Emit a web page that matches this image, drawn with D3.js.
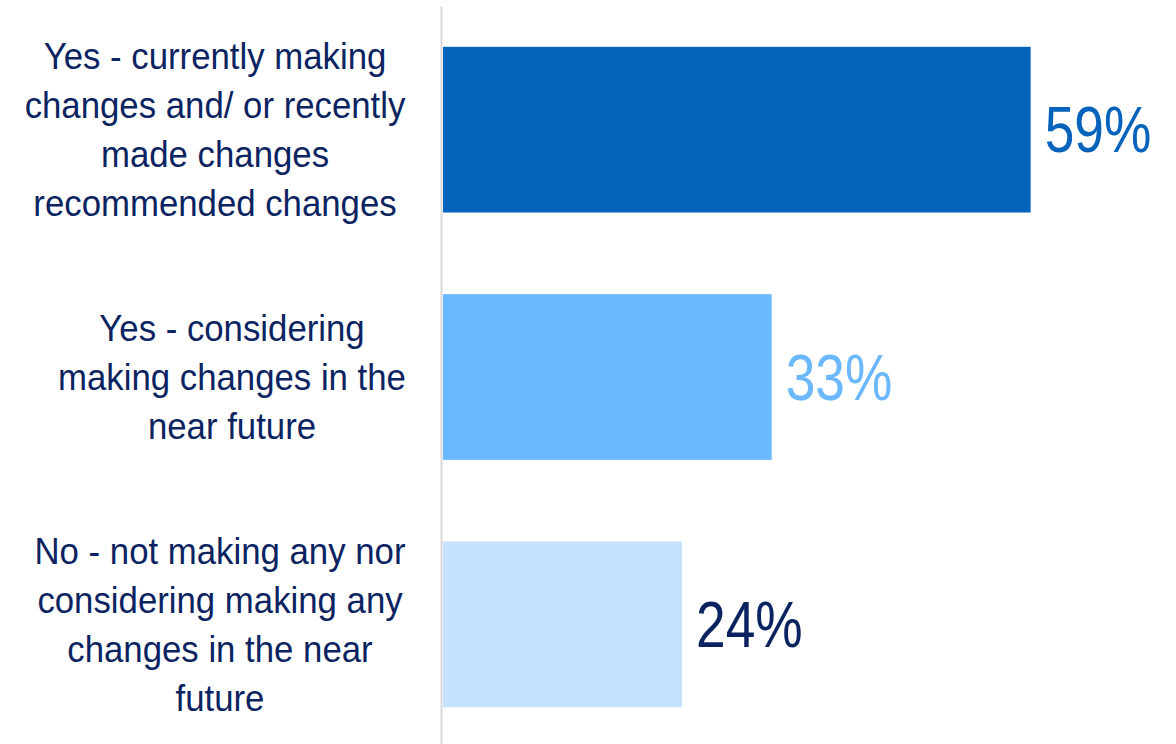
<!DOCTYPE html>
<html>
<head>
<meta charset="utf-8">
<script src="https://cdn.jsdelivr.net/npm/d3@7"></script>
<style>
  body { margin: 0; background: #fff; }
  text { font-family: "Liberation Sans Narrow", "Arial Narrow", "Liberation Sans", sans-serif; }
</style>
</head>
<body>
<svg id="main" width="1176" height="744"></svg>
<script>
// data
var categories = [
  "Yes - currently making changes and/ or recently made changes recommended changes",
  "Yes - considering making changes in the near future",
  "No - not making any nor considering making any changes in the near future"
];
var labelLines = [
  ["Yes - currently making", "changes and/ or recently", "made changes", "recommended changes"],
  ["Yes - considering", "making changes in the", "near future"],
  ["No - not making any nor", "considering making any", "changes in the near", "future"]
];
var values = [59, 33, 24];
var valueLabels = ["59%", "33%", "24%"];

var barColors = ["#0563bb", "#6cb8ff", "#c5e2ff"];
var valueColors = ["#0563bb", "#6cb8ff", "#0b2461"];
var navy = "#0b2461";
var labelCenter = [215, 232, 220];
var labelSquash = 0.94;   // no narrow font installed, so squeeze a bit
var valueSquash = 0.82;

var svg = d3.select("svg#main");

var x = d3.scaleLinear().domain([0, 100]).range([443, 443 + 996]);
var y = d3.scaleBand().domain(categories).range([6, 748])
  .paddingInner(0.33).paddingOuter(0.165);

// bars
svg.selectAll("rect.bar")
  .data(values)
  .enter()
  .append("rect")
  .attr("class", "bar")
  .attr("x", x(0))
  .attr("y", function(d, i) { return y(categories[i]); })
  .attr("width", function(d) { return x(d) - x(0); })
  .attr("height", y.bandwidth())
  .style("fill", function(d, i) { return barColors[i]; });

// axis line (no ticks)
var axis = svg.append("g")
  .attr("transform", "translate(441,0)")
  .call(d3.axisLeft(y).tickSize(0).tickSizeOuter(0).tickFormat(""));
axis.select(".domain").attr("stroke", "#d9d9d9").attr("stroke-width", 2);

// category labels, multi-line, centred on the bar
var lineH = 49;
labelLines.forEach(function(lines, i) {
  var cy = y(categories[i]) + y.bandwidth() / 2;
  var first = cy - (lines.length - 1) * lineH / 2;
  var t = svg.append("g")
    .attr("transform", "translate(" + labelCenter[i] + ",0) scale(" + labelSquash + ",1)")
    .append("text")
    .attr("text-anchor", "middle")
    .style("font-size", "37px")
    .style("fill", navy);
  lines.forEach(function(l, j) {
    t.append("tspan")
      .attr("x", 0)
      .attr("y", first + j * lineH)
      .attr("dy", "0.35em")
      .text(l);
  });
});

// value labels
svg.selectAll("g.value")
  .data(values)
  .enter()
  .append("g")
  .attr("class", "value")
  .attr("transform", function(d, i) {
    var cy = y(categories[i]) + y.bandwidth() / 2;
    return "translate(" + (x(d) + 14) + "," + cy + ") scale(" + valueSquash + ",1)";
  })
  .append("text")
  .attr("dy", "0.35em")
  .style("font-size", "65px")
  .style("fill", function(d, i) { return valueColors[i]; })
  .text(function(d, i) { return valueLabels[i]; });
</script>
</body>
</html>
